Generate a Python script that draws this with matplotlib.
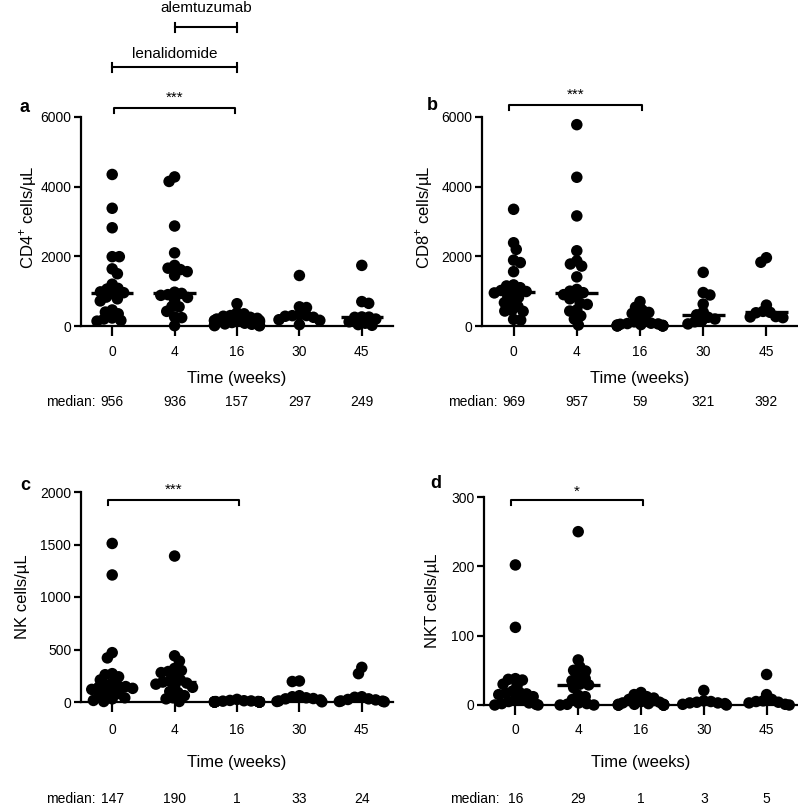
import numpy as np
import matplotlib
matplotlib.use("Agg")
from matplotlib import pyplot as plt
from matplotlib import transforms

plt.rcParams['font.family'] = ['Liberation Sans', 'DejaVu Sans']
plt.rcParams['mathtext.fontset'] = 'custom'
plt.rcParams['mathtext.rm'] = 'Liberation Sans'

## Data ---------------------------------------------------------------

weeks = ["0", "4", "16", "30", "45"]

# CD4+ cells/uL
cd4_w0 = [4350, 3380, 2820, 1990, 1990, 1640, 1500, 1200, 1080, 1060, 980, 956, 930, 830, 780, 720, 460, 400, 350, 230, 200, 160, 140]
cd4_w4 = [4280, 4150, 2870, 2100, 1740, 1660, 1620, 1560, 1450, 936, 900, 880, 820, 750, 560, 550, 420, 260, 240, 10, 970]
cd4_w16 = [640, 380, 350, 300, 280, 250, 220, 200, 180, 160, 157, 150, 120, 100, 80, 60, 50, 30, 20, 10, 5]
cd4_w30 = [1450, 550, 530, 320, 300, 297, 280, 250, 180, 160, 40]
cd4_w45 = [1740, 700, 650, 260, 255, 249, 200, 120, 80, 40, 20]
cd4_median = [956, 936, 157, 297, 249]

# CD8+ cells/uL
cd8_w0 = [3350, 2390, 2200, 1890, 1820, 1560, 1180, 1150, 1100, 1020, 990, 969, 950, 850, 820, 700, 670, 560, 450, 430, 420, 190, 170]
cd8_w4 = [5780, 4270, 3160, 2160, 1870, 1780, 1720, 1410, 1050, 1000, 957, 900, 830, 780, 650, 620, 460, 430, 290, 200, 30]
cd8_w16 = [700, 540, 460, 390, 360, 280, 200, 120, 80, 70, 59, 50, 40, 30, 20, 15, 10, 5, 3, 2, 1]
cd8_w30 = [1540, 960, 890, 630, 400, 321, 250, 200, 150, 120, 60]
cd8_w45 = [1960, 1830, 600, 420, 392, 380, 270, 260, 240]
cd8_median = [969, 957, 59, 321, 392]

# NK cells/uL
nk_w0 = [1510, 1210, 470, 420, 270, 260, 240, 210, 180, 160, 150, 147, 140, 130, 120, 100, 80, 70, 60, 40, 30, 15, 5]
nk_w4 = [1390, 440, 390, 320, 300, 290, 280, 250, 210, 200, 190, 180, 170, 150, 140, 100, 90, 60, 40, 30, 5]
nk_w16 = [25, 15, 12, 10, 8, 5, 4, 3, 2, 2, 1, 1, 1, 0, 0, 0, 0, 0, 0, 0, 0]
nk_w30 = [200, 195, 60, 50, 40, 33, 30, 20, 10, 5, 2]
nk_w45 = [330, 270, 50, 45, 30, 24, 20, 10, 8, 5, 2]
nk_median = [147, 190, 1, 33, 24]

# NKT cells/uL
nkt_w0 = [202, 112, 38, 37, 36, 30, 28, 20, 18, 17, 16, 15, 12, 8, 7, 5, 3, 2, 1, 0, 0]
nkt_w4 = [250, 65, 55, 50, 49, 40, 38, 35, 30, 29, 25, 14, 12, 8, 3, 2, 1, 0, 0]
nkt_w16 = [18, 15, 12, 10, 8, 5, 4, 3, 2, 1, 1, 1, 0, 0, 0, 0, 0, 0, 0]
nkt_w30 = [21, 6, 5, 4, 3, 3, 2, 1, 0]
nkt_w45 = [44, 15, 8, 6, 5, 4, 3, 1, 0]
nkt_median = [16, 29, 1, 3, 5]

W, H = 798, 807


def px(x, y):
    # pixel (from top-left) -> figure fraction
    return x / W, 1 - y / H


def swarm(vals, unit_px, cat_px, d, maxw):
    # simple beeswarm (overlap allowed through a small d), x offsets in category units
    vals = np.asarray(vals, float)
    ys = vals * unit_px
    order = np.argsort(-vals, kind="stable")
    placed = []
    offs = np.zeros(len(vals))
    lim = maxw * cat_px
    side = 1
    for i in order:
        y = ys[i]
        cands = [0.0]
        for (xo, yo) in placed:
            dy = y - yo
            if abs(dy) < d:
                dx = np.sqrt(d * d - dy * dy)
                cands += [xo + dx, xo - dx]
        cands = sorted(cands, key=lambda c: (round(abs(c), 3), -side * c))
        pick = None
        for c in cands:
            if abs(c) > lim:
                continue
            ok = True
            for (xo, yo) in placed:
                if (c - xo) ** 2 + (y - yo) ** 2 < d * d - 1e-6:
                    ok = False
                    break
            if ok:
                pick = c
                break
        if pick is None:
            # squeeze at the edge
            pick = side * lim
        side = -side
        placed.append((pick, y))
        offs[i] = pick / cat_px
    return offs


fig = plt.figure(figsize=(W / 100, H / 100), dpi=100)

panels = [
    dict(rect=(81, 117, 312, 209), groups=[cd4_w0, cd4_w4, cd4_w16, cd4_w30, cd4_w45], med=cd4_median,
         top=6000, ticks=[0, 2000, 4000, 6000], ylabel="CD4$^{+}$ cells/µL", letter="a",
         lab=(28, 217), let=(25, 107), sig="***", sigx=(0.03, 1.97), sig_y=108, sig_t=98,
         tl=352, tw=379, tm=402),
    dict(rect=(482, 117, 316, 209), groups=[cd8_w0, cd8_w4, cd8_w16, cd8_w30, cd8_w45], med=cd8_median,
         top=6000, ticks=[0, 2000, 4000, 6000], ylabel="CD8$^{+}$ cells/µL", letter="b",
         lab=(424, 217), let=(432, 105), sig="***", sigx=(-0.07, 2.03), sig_y=105, sig_t=95,
         tl=352, tw=379, tm=402),
    dict(rect=(81, 492, 312, 210), groups=[nk_w0, nk_w4, nk_w16, nk_w30, nk_w45], med=nk_median,
         top=2000, ticks=[0, 500, 1000, 1500, 2000], ylabel="NK cells/µL", letter="c",
         lab=(23, 597), let=(25, 485), sig="***", sigx=(-0.07, 2.03), sig_y=500, sig_t=490,
         tl=730, tw=762, tm=799),
    dict(rect=(484, 497, 314, 208), groups=[nkt_w0, nkt_w4, nkt_w16, nkt_w30, nkt_w45], med=nkt_median,
         top=300, ticks=[0, 100, 200, 300], ylabel="NKT cells/µL", letter="d",
         lab=(432, 601), let=(436, 483), sig="*", sigx=(-0.07, 2.03), sig_y=500, sig_t=492,
         tl=730, tw=762, tm=799),
]

dot = 11.5  # dot diameter, px

for p in panels:
    x0, y0, w, h = p["rect"]
    ax = fig.add_axes([x0 / W, 1 - (y0 + h) / H, w / W, h / H])
    ax.set_xlim(-0.5, 4.5)
    ax.set_ylim(0, p["top"])
    unit_px = h / p["top"]
    cat_px = w / 5.0
    for i, g in enumerate(p["groups"]):
        offs = swarm(g, unit_px, cat_px, dot * 0.62, 0.36)
        ax.scatter(i + offs, g, s=(dot / 1.389) ** 2, color="black", edgecolors="none",
                   clip_on=False, zorder=3)
        ax.plot([i - 0.34, i + 0.34], [p["med"][i], p["med"][i]], color="black", lw=2.4,
                solid_capstyle="butt", zorder=4, clip_on=False)

    for s in ["top", "right"]:
        ax.spines[s].set_visible(False)
    ax.spines["left"].set_linewidth(1.6)
    ax.spines["bottom"].set_linewidth(1.6)
    ax.set_xticks(range(5))
    ax.set_xticklabels([])
    ax.set_yticks(p["ticks"])
    ax.set_yticklabels([str(t) for t in p["ticks"]], fontsize=10)
    ax.tick_params(axis="x", length=7, width=1.6)
    ax.tick_params(axis="y", length=5, width=1.6, pad=2)

    # x tick labels, axis title and medians as placed text
    trx = transforms.blended_transform_factory(ax.transData, fig.transFigure)
    for i, wk in enumerate(weeks):
        ax.text(i, 1 - p["tl"] / H, wk, transform=trx, ha="center", va="center", fontsize=10)
        ax.text(i, 1 - p["tm"] / H, str(p["med"][i]), transform=trx, ha="center", va="center", fontsize=10)
    ax.text(-0.26, 1 - p["tm"] / H, "median:", transform=trx, ha="right", va="center", fontsize=10)
    ax.text(2, 1 - p["tw"] / H, "Time (weeks)", transform=trx, ha="center", va="center", fontsize=12)

    fx, fy = px(*p["lab"])
    fig.text(fx, fy, p["ylabel"], rotation=90, ha="center", va="center", fontsize=12)
    fx, fy = px(*p["let"])
    fig.text(fx, fy, p["letter"], ha="center", va="center", fontsize=13, fontweight="bold")

    # significance bracket
    yb = 1 - p["sig_y"] / H
    cap = 5 / H
    a, b = p["sigx"]
    ax.plot([a, a, b, b], [yb - cap, yb, yb, yb - cap], transform=trx, color="black", lw=1.5,
            clip_on=False)
    ax.text((a + b) / 2, 1 - p["sig_t"] / H, p["sig"], transform=trx, ha="center", va="center",
            fontsize=11)

    if p["letter"] == "a":
        # treatment periods
        for (c0, c1, yy, ty, name) in [(0, 2, 67, 54, "lenalidomide"), (1, 2, 27, 8, "alemtuzumab")]:
            yl = 1 - yy / H
            ax.plot([c0, c1], [yl, yl], transform=trx, color="black", lw=1.5, clip_on=False)
            for c in (c0, c1):
                ax.plot([c, c], [yl - 4.5 / H, yl + 4.5 / H], transform=trx, color="black", lw=1.5,
                        clip_on=False)
            ax.text((c0 + c1) / 2, 1 - ty / H, name, transform=trx, ha="center", va="center",
                    fontsize=11)

fig.savefig("out.png", dpi=100)
